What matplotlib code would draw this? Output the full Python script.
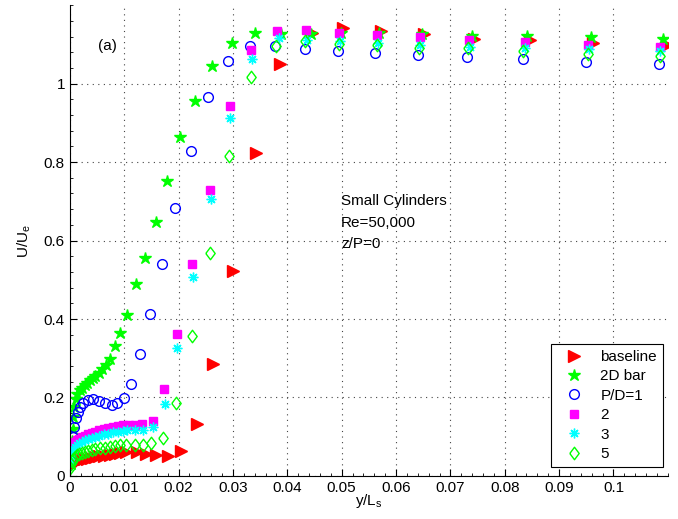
# =====================================================
# VELOCITY PROFILES - SMALL CYLINDERS
# =====================================================

import matplotlib
matplotlib.use("Agg")
import matplotlib.pyplot as plt
from matplotlib.ticker import MultipleLocator

# =====================================================
# DATA
# =====================================================

base_x = [0.0001, 0.0003, 0.0006, 0.0010, 0.0015, 0.0020, 0.0026, 0.0032,
          0.0039, 0.0046, 0.0054, 0.0063, 0.0073, 0.0083, 0.0093, 0.0104,
          0.0123, 0.0141, 0.0159, 0.0181, 0.0205, 0.0234, 0.0263, 0.0300,
          0.0342, 0.0386, 0.0445, 0.0502, 0.0572, 0.0652, 0.0743, 0.0847,
          0.0963, 0.1098]
base_y = [0.025, 0.030, 0.033, 0.036, 0.038, 0.040, 0.042, 0.044,
          0.046, 0.048, 0.050, 0.052, 0.054, 0.056, 0.058, 0.062,
          0.060, 0.055, 0.053, 0.050, 0.064, 0.132, 0.285, 0.522,
          0.824, 1.050, 1.128, 1.142, 1.135, 1.126, 1.114, 1.112,
          1.104, 1.099]

bar_x = [0.0002, 0.0003, 0.0004, 0.0005, 0.0006, 0.0008, 0.0011, 0.0014,
         0.0018, 0.0022, 0.0027, 0.0032, 0.0037, 0.0042, 0.0047, 0.0053,
         0.0059, 0.0066, 0.0073, 0.0083, 0.0093, 0.0106, 0.0121, 0.0138,
         0.0158, 0.0178, 0.0203, 0.0231, 0.0262, 0.0298, 0.0340, 0.0388,
         0.0444, 0.0499, 0.0569, 0.0647, 0.0740, 0.0841, 0.0958, 0.1092]
bar_y = [0.030, 0.060, 0.090, 0.120, 0.150, 0.175, 0.195, 0.208,
         0.218, 0.225, 0.232, 0.238, 0.244, 0.249, 0.255, 0.262,
         0.272, 0.284, 0.298, 0.330, 0.365, 0.410, 0.489, 0.555,
         0.647, 0.751, 0.863, 0.957, 1.044, 1.103, 1.128, 1.127,
         1.127, 1.130, 1.130, 1.126, 1.122, 1.122, 1.118, 1.114]

pd1_x = [0.0001, 0.0003, 0.0005, 0.0008, 0.0011, 0.0015, 0.0019, 0.0025,
         0.0034, 0.0043, 0.0054, 0.0065, 0.0077, 0.0087, 0.0100, 0.0112,
         0.0129, 0.0148, 0.0170, 0.0194, 0.0222, 0.0254, 0.0291, 0.0331,
         0.0378, 0.0432, 0.0493, 0.0562, 0.0641, 0.0731, 0.0834, 0.0950,
         0.1083]
pd1_y = [0.050, 0.075, 0.100, 0.125, 0.147, 0.164, 0.176, 0.187,
         0.193, 0.195, 0.192, 0.187, 0.181, 0.185, 0.198, 0.234,
         0.310, 0.414, 0.539, 0.684, 0.828, 0.967, 1.057, 1.097,
         1.095, 1.088, 1.084, 1.078, 1.074, 1.067, 1.063, 1.056,
         1.050]

pd2_x = [0.0001, 0.0002, 0.0004, 0.0006, 0.0009, 0.0013, 0.0017, 0.0022,
         0.0028, 0.0034, 0.0040, 0.0047, 0.0054, 0.0062, 0.0070, 0.0079,
         0.0088, 0.0098, 0.0108, 0.0119, 0.0132, 0.0153, 0.0173, 0.0197,
         0.0225, 0.0257, 0.0294, 0.0334, 0.0381, 0.0435, 0.0496, 0.0565,
         0.0644, 0.0734, 0.0837, 0.0953, 0.1086]
pd2_y = [0.045, 0.060, 0.072, 0.080, 0.086, 0.091, 0.095, 0.099,
         0.103, 0.107, 0.110, 0.113, 0.116, 0.119, 0.122, 0.125,
         0.127, 0.129, 0.130, 0.131, 0.132, 0.140, 0.221, 0.361,
         0.541, 0.730, 0.944, 1.087, 1.135, 1.136, 1.130, 1.124,
         1.118, 1.112, 1.107, 1.099, 1.094]

pd3_x = [0.0001, 0.0002, 0.0004, 0.0006, 0.0009, 0.0013, 0.0017, 0.0022,
         0.0028, 0.0034, 0.0040, 0.0047, 0.0054, 0.0062, 0.0070, 0.0079,
         0.0088, 0.0097, 0.0106, 0.0120, 0.0135, 0.0153, 0.0175, 0.0198,
         0.0227, 0.0259, 0.0295, 0.0336, 0.0384, 0.0436, 0.0497, 0.0566,
         0.0645, 0.0736, 0.0837, 0.0955, 0.1086]
pd3_y = [0.035, 0.050, 0.060, 0.068, 0.074, 0.079, 0.083, 0.087,
         0.091, 0.094, 0.097, 0.100, 0.103, 0.106, 0.108, 0.111,
         0.113, 0.115, 0.117, 0.118, 0.118, 0.125, 0.183, 0.326,
         0.506, 0.705, 0.913, 1.063, 1.116, 1.112, 1.108, 1.104,
         1.098, 1.093, 1.091, 1.088, 1.084]

pd5_x = [0.0001, 0.0002, 0.0004, 0.0006, 0.0009, 0.0013, 0.0017, 0.0022,
         0.0028, 0.0034, 0.0040, 0.0047, 0.0055, 0.0064, 0.0073, 0.0083,
         0.0093, 0.0104, 0.0120, 0.0135, 0.0150, 0.0171, 0.0196, 0.0225,
         0.0257, 0.0293, 0.0334, 0.0380, 0.0433, 0.0496, 0.0565, 0.0643,
         0.0733, 0.0834, 0.0953, 0.1085]
pd5_y = [0.020, 0.030, 0.038, 0.044, 0.049, 0.053, 0.056, 0.059,
         0.062, 0.064, 0.066, 0.068, 0.070, 0.072, 0.074, 0.076,
         0.078, 0.080, 0.079, 0.079, 0.083, 0.096, 0.186, 0.356,
         0.568, 0.815, 1.016, 1.095, 1.108, 1.101, 1.098, 1.092,
         1.090, 1.083, 1.076, 1.070]

labels = ["baseline", "2D bar", "P/D=1", "2", "3", "5"]

# matlab-like diamond, a bit wider than matplotlib's thin 'd'
diamond = [(-0.75, 0), (0, 1), (0.75, 0), (0, -1), (-0.75, 0)]

# =====================================================
# PLOT
# =====================================================

plt.rcParams["font.family"] = "Liberation Sans"

fig = plt.figure(figsize=(6.78, 5.19), dpi=100)
ax = fig.add_axes([0.103, 0.083, 0.882, 0.907])

ax.plot(base_x, base_y, ">", color="#ff0000", markersize=8,
        linestyle="none", label=labels[0])
ax.plot(bar_x, bar_y, "*", color="#00ff00", markersize=9,
        linestyle="none", label=labels[1])
ax.plot(pd1_x, pd1_y, "o", color="#0000ff", markerfacecolor="none",
        markersize=7, linestyle="none", label=labels[2])
ax.plot(pd2_x, pd2_y, "s", color="#ff00ff", markersize=6,
        linestyle="none", label=labels[3])
ax.plot(pd3_x, pd3_y, marker=(8, 2, 0), color="#00ffff", markersize=7,
        linestyle="none", label=labels[4])
ax.plot(pd5_x, pd5_y, marker=diamond, color="#00ff00",
        markerfacecolor="none", markersize=9, linestyle="none",
        label=labels[5])

# =====================================================
# AXES
# =====================================================

ax.set_xlim(0, 0.11)
ax.set_ylim(0, 1.2)

ax.set_xticks([0, 0.01, 0.02, 0.03, 0.04, 0.05, 0.06, 0.07, 0.08, 0.09, 0.1])
ax.set_xticklabels(["0", "0.01", "0.02", "0.03", "0.04", "0.05", "0.06",
                    "0.07", "0.08", "0.09", "0.1"])
ax.set_yticks([0, 0.2, 0.4, 0.6, 0.8, 1.0])
ax.set_yticklabels(["0", "0.2", "0.4", "0.6", "0.8", "1"])
ax.xaxis.set_minor_locator(MultipleLocator(0.002))
ax.yaxis.set_minor_locator(MultipleLocator(0.04))

ax.tick_params(which="both", direction="in", labelsize=11, top=False,
               right=False)
ax.tick_params(which="major", length=5)
ax.tick_params(which="minor", length=2.5)

ax.spines["top"].set_visible(False)
ax.spines["right"].set_visible(False)

ax.grid(True, which="major", linestyle=(0, (1, 4)), color="#444444",
        linewidth=0.8)

ax.set_xlabel("y/L$_\\mathregular{s}$", fontsize=11, labelpad=-2)
ax.set_ylabel("U/U$_\\mathregular{e}$", fontsize=11, labelpad=8)

ax.text(0.0052, 1.097, "(a)", fontsize=11, va="center")
ax.text(0.0499, 0.646, "Small Cylinders\nRe=50,000\nz/P=0", fontsize=11,
        va="center", linespacing=1.65)

leg = ax.legend(loc="lower right", bbox_to_anchor=(0.992, 0.019),
                fancybox=False, edgecolor="black", fontsize=11,
                handlelength=2.2, handletextpad=0.6, borderaxespad=0,
                labelspacing=0.35, framealpha=1)
leg.get_frame().set_linewidth(0.8)

fig.savefig("out.png", dpi=100)
